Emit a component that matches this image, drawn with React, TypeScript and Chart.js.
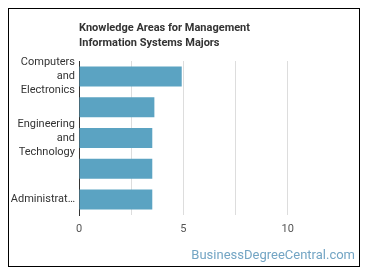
import React, { useEffect, useRef } from "react";
import { Chart, registerables } from "chart.js";

Chart.register(...registerables);

const categories: (string | string[])[] = [
  ["Computers", "and", "Electronics"],
  "",
  ["Engineering", "and", "Technology"],
  "",
  "Administrat…",
];
const values = [4.92, 3.61, 3.51, 3.51, 3.51];
const titleLines = ["Knowledge Areas for Management", "Information Systems Majors"];
const watermark = "BusinessDegreeCentral.com";

const FONT = "Roboto, 'Noto Sans', Arial, sans-serif";

const overlayPlugin = {
  id: "overlay",
  afterDraw(chart: any) {
    const ctx = chart.ctx;
    const area = chart.chartArea;
    ctx.save();
    ctx.fillStyle = "#333333";
    ctx.font = `bold 11px ${FONT}`;
    ctx.textAlign = "left";
    ctx.textBaseline = "middle";
    titleLines.forEach((t, i) => ctx.fillText(t, area.left, 19 + i * 15));
    ctx.fillStyle = "#73a5c4";
    ctx.font = `13px ${FONT}`;
    ctx.textAlign = "right";
    ctx.fillText(watermark, chart.width - 4, 247);
    ctx.restore();
  },
};

export default function App() {
  const ref = useRef<HTMLCanvasElement>(null);
  useEffect(() => {
    if (!ref.current) return;
    const chart = new Chart(ref.current, {
      type: "bar",
      data: {
        labels: categories,
        datasets: [
          {
            data: values,
            backgroundColor: "#5ba3c2",
            borderWidth: 0,
            barPercentage: 0.65,
            categoryPercentage: 1,
          },
        ],
      },
      plugins: [overlayPlugin],
      options: {
        indexAxis: "y",
        animation: false,
        responsive: false,
        layout: { padding: { top: 52, right: 19, bottom: 20, left: 0 } },
        plugins: { legend: { display: false }, tooltip: { enabled: false }, title: { display: false } },
        scales: {
          x: {
            min: 0,
            max: 12.5,
            ticks: {
              stepSize: 2.5,
              color: "#555555",
              font: { family: FONT, size: 11 },
              padding: 8,
              maxRotation: 0,
              callback: (v: any) => (Number(v) % 5 === 0 && Number(v) <= 10 ? String(v) : ""),
            },
            grid: {
              color: (c: any) =>
                c.tick && (c.tick.value === 0 || c.tick.value >= 12.5) ? "rgba(0,0,0,0)" : "#dddddd",
              drawTicks: false,
            },
            border: { display: false },
            afterFit: (s: any) => {
              s.height = 31;
            },
          },
          y: {
            ticks: {
              color: "#333333",
              font: { family: FONT, size: 11, lineHeight: 1.27 },
              padding: 4,
              autoSkip: false,
            },
            grid: { display: false, drawTicks: false },
            border: { display: true, color: "#333333", width: 1 },
            afterFit: (s: any) => {
              s.width = 70;
            },
          },
        },
      },
    });
    return () => chart.destroy();
  }, []);
  return (
    <div style={{ width: 350, height: 257, border: "1px solid #000" }}>
      <canvas ref={ref} width={350} height={257} style={{ display: "block" }} />
    </div>
  );
}
